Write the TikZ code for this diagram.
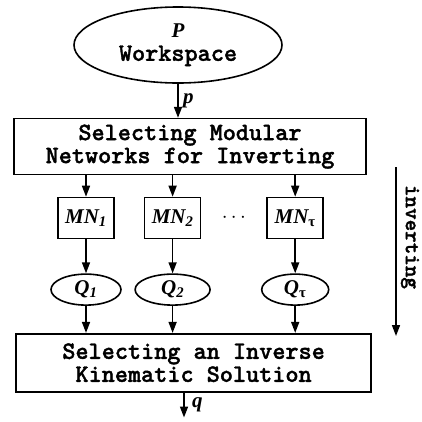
\documentclass[tikz,border=0pt]{standalone}
\usepackage{fontspec}
\setmonofont[BoldFont=lmmonolt10-bold.otf, BoldFeatures={FakeBold=1.4}]{lmmono10-regular.otf}
\newfontfamily\lblfont{Liberation Serif}
\usetikzlibrary{positioning,arrows.meta,shapes.geometric,calc}

\newcommand{\lbl}[1]{{\lblfont\bfseries\itshape #1}}

\begin{document}
\begin{tikzpicture}[x=1pt,y=1pt,
				wsnode/.style={ellipse, draw=black, line width=1.6pt, minimum width=208pt, minimum height=76pt, inner sep=0pt, align=center},
				selbox/.style={rectangle, draw=black, line width=1.6pt, minimum width=352pt, minimum height=56pt, inner sep=0pt, align=center, font=\ttfamily\bfseries\fontsize{25}{23}\selectfont},
				mnbox/.style={rectangle, draw=black, line width=1.6pt, minimum width=56pt, minimum height=41pt, inner sep=0pt, font=\fontsize{21}{21}\selectfont},
				qnode/.style={ellipse, draw=black, line width=1.6pt, minimum width=70pt, minimum height=31pt, inner sep=0pt, font=\fontsize{21}{21}\selectfont},
				flow/.style={line width=1.6pt, -{Triangle[length=11pt,width=8pt]}}
			]
			\useasboundingbox (0,0) rectangle (422,-421);
			\node[wsnode] (ws) at (178,-45) {\fontsize{21}{21}\selectfont\lbl{P}\\[7pt] \ttfamily\bfseries\fontsize{25}{22}\selectfont Workspace};
			\node[selbox] (select) [below=34pt of ws, xshift=12pt] {Selecting Modular\\Networks for Inverting};
			\node[mnbox] (mn1) at (86,-218) {\lbl{MN\textsubscript{1}}};
			\node[mnbox] (mn2) [right=29pt of mn1] {\lbl{MN\textsubscript{2}}};
			\node[mnbox] (mnt) [right=65pt of mn2] {\lbl{MN}\textsubscript{\lblfont\bfseries τ}};
			\node (dots) at ($(mn2)!0.5!(mnt)$) {\fontsize{20}{20}\selectfont$\cdots$};
			\node[qnode] (q1) [below=34pt of mn1] {\lbl{Q\textsubscript{1}}};
			\node[qnode] (q2) [below=34pt of mn2, minimum width=75pt] {\lbl{Q\textsubscript{2}}};
			\node[qnode] (qt) [below=34pt of mnt, minimum width=67pt] {\lbl{Q}\textsubscript{\lblfont\bfseries τ}};
			\node[selbox] (solve) [below=27pt of q2, xshift=21pt, minimum width=355pt, minimum height=58pt] {Selecting an Inverse\\Kinematic Solution};
			\coordinate (qout) at ([xshift=6pt,yshift=-25pt]solve.south -| ws);
			\coordinate (invtop) at (396,-167);
			\coordinate (invbot) at (396,-336);
			\node[rotate=-90, font=\ttfamily\bfseries\fontsize{22}{22}\selectfont] (inv) at (410,-237) {inverting};
			\begin{scope}[flow]
			\draw (ws) -- (select.north -| ws) node[midway, right, xshift=1pt] {\fontsize{21}{21}\selectfont\lbl{p}};
			\draw (select.south -| mn1) -- (mn1);
			\draw (select.south -| mn2) -- (mn2);
			\draw (select.south -| mnt) -- (mnt);
			\draw (mn1) -- (q1);
			\draw (mn2) -- (q2);
			\draw (mnt) -- (qt);
			\draw (q1) -- (solve.north -| q1);
			\draw (q2) -- (solve.north -| q2);
			\draw (qt) -- (solve.north -| qt);
			\draw (solve.south -| qout) -- (qout) node[midway, right, xshift=4pt] {\fontsize{21}{21}\selectfont\lbl{q}};
			\draw (invtop) -- (invbot);
			\end{scope}
			\end{tikzpicture}
\end{document}
